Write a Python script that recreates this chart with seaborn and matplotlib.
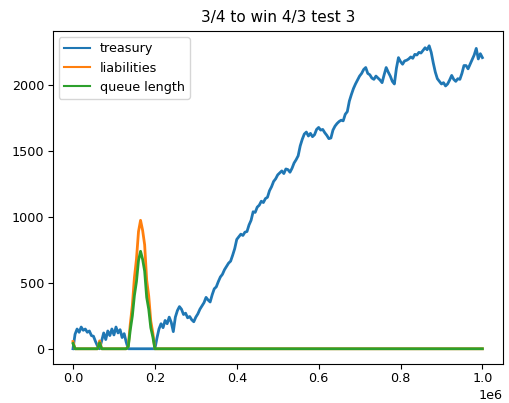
import matplotlib
matplotlib.use('Agg')
import matplotlib.pyplot as plt
import seaborn as sns
import pandas as pd
import numpy as np

plt.rcParams['font.family'] = ['DejaVu Sans']
plt.rcParams['font.size'] = 9.2

# sample positions, every 5000 steps from 0 to 1e6
steps = np.arange(0, 1_000_001, 5000)

# values, one per sample position
treasury = [
    0, 110, 150, 125, 165, 140, 150, 125, 135, 100,
    95, 55, 20, 0, 60, 120, 70, 135, 100, 150,
    105, 165, 120, 145, 85, 115, 50, 0, 0, 0,
    0, 0, 0, 0, 0, 0, 0, 0, 0, 0,
    0, 80, 150, 190, 160, 215, 190, 240, 200, 130,
    240, 290, 320, 300, 260, 270, 235, 245, 220, 205,
    240, 265, 300, 325, 350, 390, 370, 355, 410, 455,
    470, 510, 545, 565, 600, 625, 650, 665, 710, 760,
    830, 850, 870, 860, 885, 890, 940, 975, 1040, 1035,
    1075, 1090, 1120, 1110, 1140, 1150, 1200, 1230, 1270, 1290,
    1320, 1335, 1350, 1330, 1365, 1360, 1340, 1370, 1410, 1435,
    1465, 1540, 1590, 1630, 1645, 1615, 1635, 1610, 1625, 1665,
    1680, 1660, 1665, 1640, 1620, 1595, 1600, 1660, 1690, 1710,
    1725, 1735, 1730, 1780, 1800, 1880, 1930, 1975, 2010, 2040,
    2070, 2090, 2120, 2135, 2090, 2080, 2055, 2045, 2070, 2055,
    2040, 2020, 2080, 2135, 2100, 2070, 2030, 2010, 2130, 2210,
    2180, 2160, 2185, 2190, 2200, 2215, 2205, 2235, 2230, 2250,
    2245, 2265, 2285, 2270, 2300, 2250, 2170, 2100, 2050, 2030,
    2010, 2020, 1995, 2010, 2040, 2075, 2045, 2030, 2050, 2045,
    2090, 2150, 2150, 2125, 2160, 2195, 2230, 2280, 2200, 2240,
    2210,
]

liabilities = [
    55, 0, 0, 0, 0, 0, 0, 0, 0, 0,
    0, 0, 0, 60, 0, 0, 0, 0, 0, 0,
    0, 0, 0, 0, 0, 0, 0, 20, 190, 330,
    540, 680, 890, 975, 900, 790, 520, 400, 210, 120,
] + [0] * 161

queue_length = [
    40, 0, 0, 0, 0, 0, 0, 0, 0, 0,
    0, 0, 0, 45, 0, 0, 0, 0, 0, 0,
    0, 0, 0, 0, 0, 0, 0, 15, 145, 250,
    405, 510, 670, 740, 680, 590, 390, 300, 160, 90,
] + [0] * 161

df = pd.DataFrame({'step': steps, 'treasury': treasury,
                   'liabilities': liabilities, 'queue length': queue_length})

fig, ax = plt.subplots(figsize=(5.1, 4.03), dpi=100)
fig.subplots_adjust(left=0.103, right=0.986, top=0.924, bottom=0.097)

colors = ['#1f77b4', '#ff7f0e', '#2ca02c']
for col, c in zip(['treasury', 'liabilities', 'queue length'], colors):
    sns.lineplot(data=df, x='step', y=col, ax=ax, color=c, label=col,
                 linewidth=2.0)

ax.set_xlabel('')
ax.set_ylabel('')
ax.set_title('3/4 to win 4/3 test 3', fontsize=11)
ax.set_yticks([0, 500, 1000, 1500, 2000])
ax.tick_params(pad=2.5)
ax.legend(loc='upper left')
for line in ax.get_legend().get_lines():
    line.set_linewidth(1.5)

plt.savefig('out.png', dpi=100)
